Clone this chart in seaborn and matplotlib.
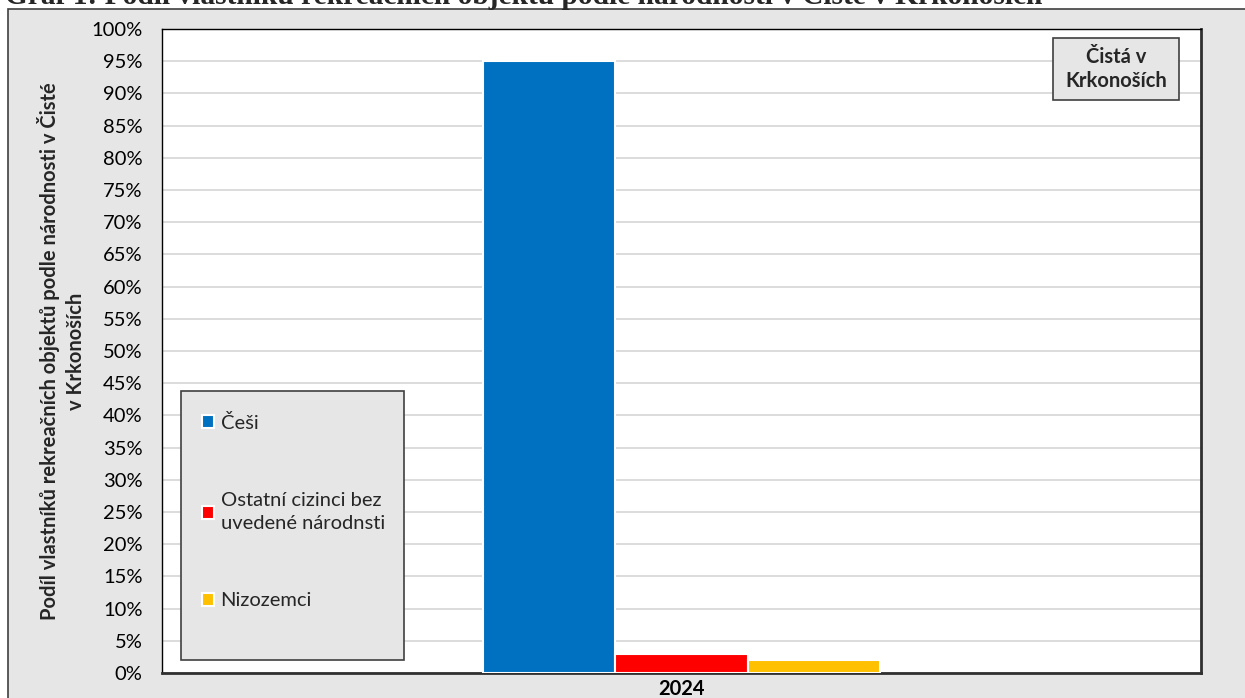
import matplotlib
matplotlib.use("Agg")
import matplotlib.pyplot as plt
from matplotlib.patches import Rectangle
from matplotlib.ticker import PercentFormatter, MultipleLocator
import pandas as pd
import seaborn as sns

# Data: share of holiday-home owners by nationality, Čistá v Krkonoších
rok = ["2024"]
skupiny = ["Češi", "Ostatní cizinci bez\nuvedené národnsti", "Nizozemci"]
podily = [95, 3, 2]
barvy = ["#0070C0", "#FF0000", "#FFC000"]

nadpis = "Graf 1: Podíl vlastníků rekreačních objektů podle národnosti v Čisté v Krkonoších"
osa_y = "Podíl vlastníků rekreačních objektů podle národnosti v Čisté\nv Krkonoších"
obec = "Čistá v\nKrkonoších"

df = pd.DataFrame({"rok": rok * len(skupiny), "skupina": skupiny, "podil": podily})

sns.set_theme(style="white")
plt.rcParams["font.family"] = ["Lato", "DejaVu Sans"]

W, H = 1245, 698
FS = 14.5
fig = plt.figure(figsize=(W / 100, H / 100), dpi=100)
fig.patch.set_facecolor("white")

# grey chart area frame
fig.patches.append(Rectangle((8 / W, -0.02), 1.1, (H - 9) / H + 0.02,
                             transform=fig.transFigure, facecolor="#e6e6e6",
                             edgecolor="#404040", linewidth=1.2, zorder=-10))

ax = fig.add_axes([162 / W, 25 / H, (1201 - 162) / W, (673 - 29) / H])
ax.set_facecolor("white")

sns.barplot(data=df, x="rok", y="podil", hue="skupina", hue_order=skupiny,
            palette=barvy, width=0.382, edgecolor="white", linewidth=1.5,
            saturation=1, ax=ax, zorder=3)

ax.set_xlim(-0.5, 0.5)
ax.set_ylim(0, 100)
ax.yaxis.set_major_locator(MultipleLocator(5))
ax.yaxis.set_major_formatter(PercentFormatter(decimals=0))
ax.grid(axis="y", color="#d9d9d9", linewidth=1.3, zorder=0)
ax.set_axisbelow(True)
ax.tick_params(axis="both", length=0, labelsize=FS, colors="black")
ax.tick_params(axis="y", pad=14)
ax.tick_params(axis="x", pad=4)
for lab in ax.get_xticklabels():
    lab.set_fontweight("bold")
ax.set_xlabel("")
ax.set_ylabel(osa_y, fontsize=FS, fontweight="bold", va="center",
              ha="center", multialignment="center", linespacing=1.35)
ax.yaxis.set_label_coords(-0.097, 0.5)

for side in ["left", "top"]:
    ax.spines[side].set_color("black")
    ax.spines[side].set_linewidth(1.0)
for side in ["right", "bottom"]:
    ax.spines[side].set_color("#303030")
    ax.spines[side].set_linewidth(2.0)

# legend box
handles, labels = ax.get_legend_handles_labels()
ax.get_legend().remove()
ax.add_patch(Rectangle((181 / W, 1 - 660 / H), (404 - 181) / W, (660 - 391) / H,
                       transform=fig.transFigure, facecolor="#e6e6e6",
                       edgecolor="#404040", linewidth=1.2, zorder=6,
                       clip_on=False))
leg = ax.legend(handles, labels, loc="upper left",
                bbox_to_anchor=(202 / W, 1 - 414 / H),
                bbox_transform=fig.transFigure, frameon=False,
                fontsize=FS, handlelength=0.62, handleheight=0.62,
                handletextpad=0.3, labelspacing=3.0, borderpad=0,
                borderaxespad=0)
for t in leg.get_texts():
    t.set_linespacing(1.4)
leg.set_zorder(7)

# municipality label box
ax.add_patch(Rectangle((1053 / W, 1 - 100 / H), (1179 - 1053) / W, (100 - 38) / H,
                       transform=fig.transFigure, facecolor="#e6e6e6",
                       edgecolor="#404040", linewidth=1.2, zorder=6,
                       clip_on=False))
fig.text(1116 / W, 1 - 69 / H, obec, ha="center", va="center",
         fontsize=FS, fontweight="bold", linespacing=1.25, zorder=8)

# chart title (partly above the page edge)
fig.text(5 / W, 1 - 4 / H, nadpis, ha="left", va="baseline",
         fontsize=21.2, fontweight="bold", family=["Liberation Serif", "DejaVu Serif"])

fig.savefig("out.png", dpi=100)
